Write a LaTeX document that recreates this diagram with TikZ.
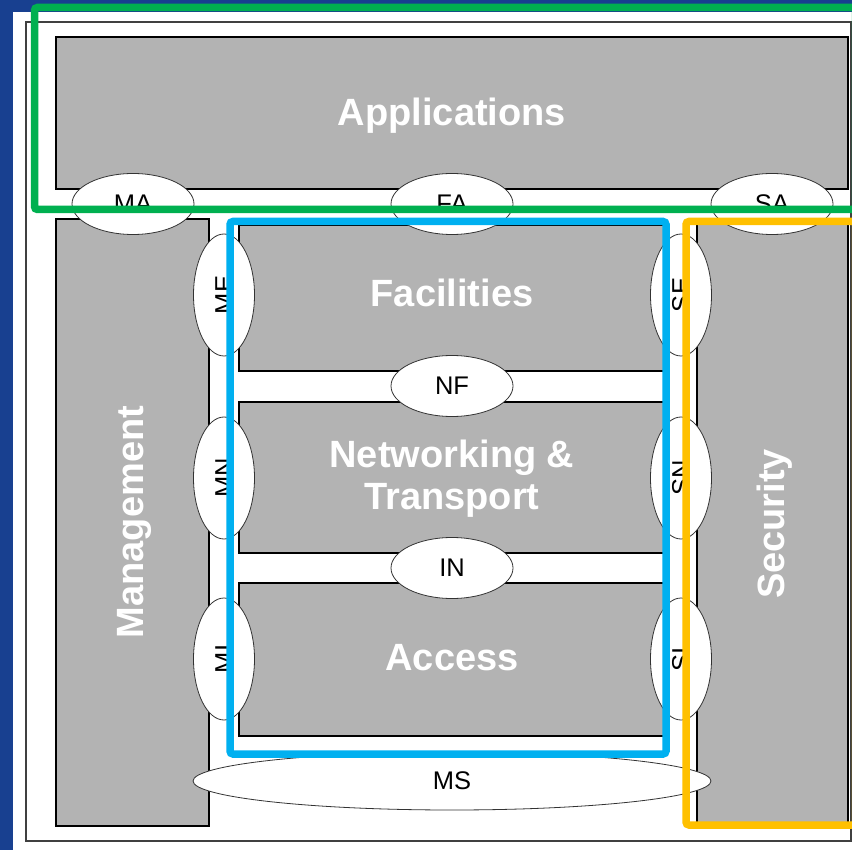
\documentclass[tikz,border=0pt]{standalone}
\usepackage{fontspec}
\setmainfont{Liberation Sans}
\usetikzlibrary{shapes.geometric}
\definecolor{bgblue}{RGB}{24,64,144}
\definecolor{boxgray}{RGB}{179,179,179}
\definecolor{frgreen}{RGB}{0,176,80}
\definecolor{frblue}{RGB}{0,176,240}
\definecolor{fryellow}{RGB}{255,192,0}
\begin{document}
\begin{tikzpicture}[x=1pt,y=-1pt,
  layerbox/.style={draw=black,line width=1.1pt,fill=boxgray,inner sep=0pt},
  bigtxt/.style={text=white,font=\fontsize{38}{42}\selectfont\bfseries,align=center,inner sep=0pt},
  iface/.style={ellipse,draw=black!80,line width=0.8pt,fill=white,minimum width=122pt,minimum height=61pt,inner sep=0pt,font=\fontsize{25.5}{30}\selectfont},
  hilite/.style={line width=7.5pt,rounded corners=3pt}]
\useasboundingbox (0,0) rectangle (852,850);
\clip (0,0) rectangle (852,850);
% background
\fill[bgblue] (0,0) rectangle (852,850);
\fill[white] (13,12) rectangle (870,870);
\draw[black!75,line width=1.2pt] (26,22) rectangle (851,841);
% layer boxes
\node[layerbox,minimum width=792pt,minimum height=152pt] (app) at (452,113) {};
\node[layerbox,minimum width=153pt,minimum height=607pt] (mgmt) at (132.5,522.5) {};
\node[layerbox,minimum width=151pt,minimum height=607pt] (sec) at (772.5,522.5) {};
\node[layerbox,minimum width=425pt,minimum height=146pt] (fac) at (451.5,298) {};
\node[layerbox,minimum width=425pt,minimum height=151pt] (net) at (451.5,477.5) {};
\node[layerbox,minimum width=425pt,minimum height=153pt] (acc) at (451.5,659.5) {};
% layer titles
\node[bigtxt] (tapp) at (452,115.5) {Applications};
\node[bigtxt] (tfac) at (452,293) {Facilities};
\node[bigtxt] (tnet) at (452,479) {Networking \&\\Transport};
\node[bigtxt] (tacc) at (452,658) {Access};
\node[bigtxt,rotate=90] (tmgmt) at (134,522) {Management};
\node[bigtxt,rotate=90] (tsec) at (775,524) {Security};
% interfaces
\node[iface] (ma) at (133,204) {MA};
\node[iface] (fa) at (452,204) {FA};
\node[iface] (sa) at (772,204) {SA};
\node[iface] (nf) at (452,386) {NF};
\node[iface] (in) at (452,568) {IN};
\node[iface,rotate=90] (me) at (224,295) {ME};
\node[iface,rotate=90] (mn) at (224,478) {MN};
\node[iface,rotate=90] (mi) at (224,659) {MI};
\node[iface,rotate=90] (se) at (681,295) {SE};
\node[iface,rotate=90] (sn) at (681,478) {SN};
\node[iface,rotate=90] (si) at (681,659) {SI};
\node[iface,minimum width=518pt,minimum height=58pt] (ms) at (452,781) {MS};
% highlight frames
\draw[hilite,frgreen] (34.5,7.5) rectangle (855.5,209.5);
\draw[hilite,frblue] (230,221.5) rectangle (666,754);
\draw[hilite,fryellow] (686,221.5) rectangle (855.5,825);
\end{tikzpicture}
\end{document}
